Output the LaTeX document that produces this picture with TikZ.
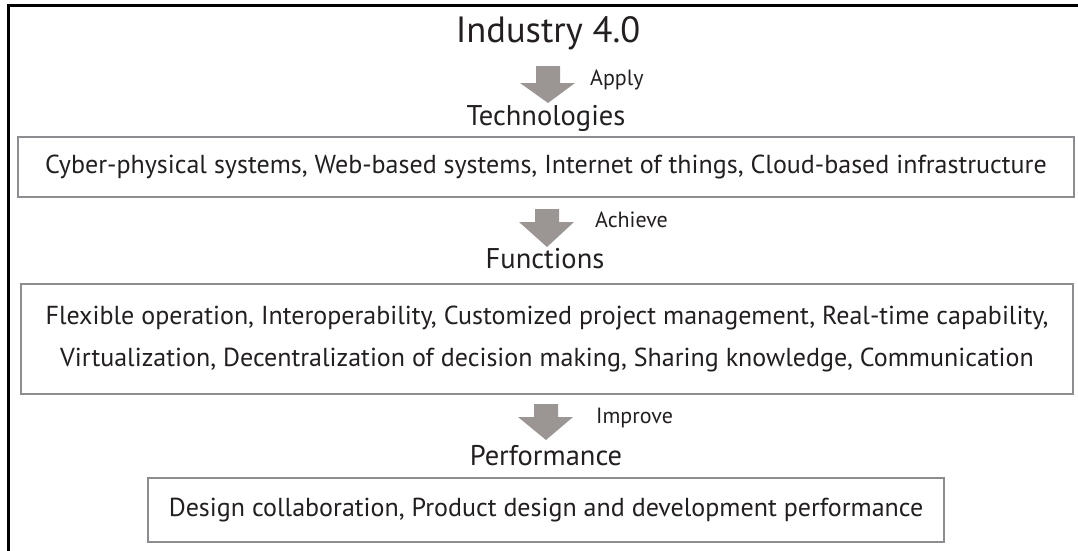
\documentclass[tikz,border=0pt]{standalone}
\usepackage{fontspec}
\setmainfont{PT Sans}
\definecolor{arrowgray}{RGB}{155,150,148}
\definecolor{boxgray}{RGB}{140,140,145}
\definecolor{ink}{RGB}{35,31,32}
\begin{document}
\begin{tikzpicture}[x=1pt,y=-1pt,
  every node/.style={text=ink, inner sep=0pt},
  boxnode/.style={draw=boxgray, line width=2pt, fill=white},
  boxtext/.style={font=\fontsize{26}{42}\selectfont, align=center},
  stage/.style={font=\fontsize{28.5}{30}\selectfont, anchor=base},
  verb/.style={font=\fontsize{22}{24}\selectfont, anchor=base west},
  blockarrow/.style={fill=arrowgray}]
\useasboundingbox (0,0) rectangle (1078,551);
% outer frame (cut at the right and bottom)
\draw[line width=3pt] (8,551) -- (8,6) -- (1078,6);

% title
\node[font=\fontsize{36.5}{40}\selectfont, anchor=base] (title) at (548,43) {Industry 4.0};

% arrow 1
\coordinate (a1) at (548,66);
\fill[blockarrow] ([xshift=-12]a1) -- ([xshift=12]a1) -- ([xshift=12,yshift=-17]a1) -- ([xshift=27,yshift=-17]a1)
  -- ([yshift=-37]a1) -- ([xshift=-28,yshift=-17]a1) -- ([xshift=-12,yshift=-17]a1) -- cycle;
\node[verb] (apply) at (590,85) {Apply};

\node[stage] (tech) at (546,125) {Technologies};
\node[boxnode, minimum width=1056, minimum height=60] (box1) at (546,167) {};
\node[boxtext] (t1) at (box1.center) {Cyber-physical systems, Web-based systems, Internet of things, Cloud-based infrastructure};

% arrow 2
\coordinate (a2) at (547,209);
\fill[blockarrow] ([xshift=-12]a2) -- ([xshift=12]a2) -- ([xshift=12,yshift=-13]a2) -- ([xshift=27,yshift=-13]a2)
  -- ([yshift=-38]a2) -- ([xshift=-28,yshift=-13]a2) -- ([xshift=-12,yshift=-13]a2) -- cycle;
\node[verb] (achieve) at (595,227) {Achieve};

\node[stage] (func) at (545,268) {Functions};
\node[boxnode, minimum width=1052, minimum height=110] (box2) at (547,339) {};
\node[boxtext] (t2) at (box2.center) {Flexible operation, Interoperability, Customized project management, Real-time capability,\\
Virtualization, Decentralization of decision making, Sharing knowledge, Communication};

% arrow 3
\coordinate (a3) at (546,404);
\fill[blockarrow] ([xshift=-12]a3) -- ([xshift=12]a3) -- ([xshift=12,yshift=-13]a3) -- ([xshift=27,yshift=-13]a3)
  -- ([yshift=-36]a3) -- ([xshift=-28,yshift=-13]a3) -- ([xshift=-12,yshift=-13]a3) -- cycle;
\node[verb] (improve) at (596,423) {Improve};

\node[stage] (perf) at (546,465) {Performance};
\node[boxnode, minimum width=796, minimum height=64] (box3) at (546,510) {};
\node[boxtext] (t3) at (box3.center) {Design collaboration, Product design and development performance};
\end{tikzpicture}
\end{document}
